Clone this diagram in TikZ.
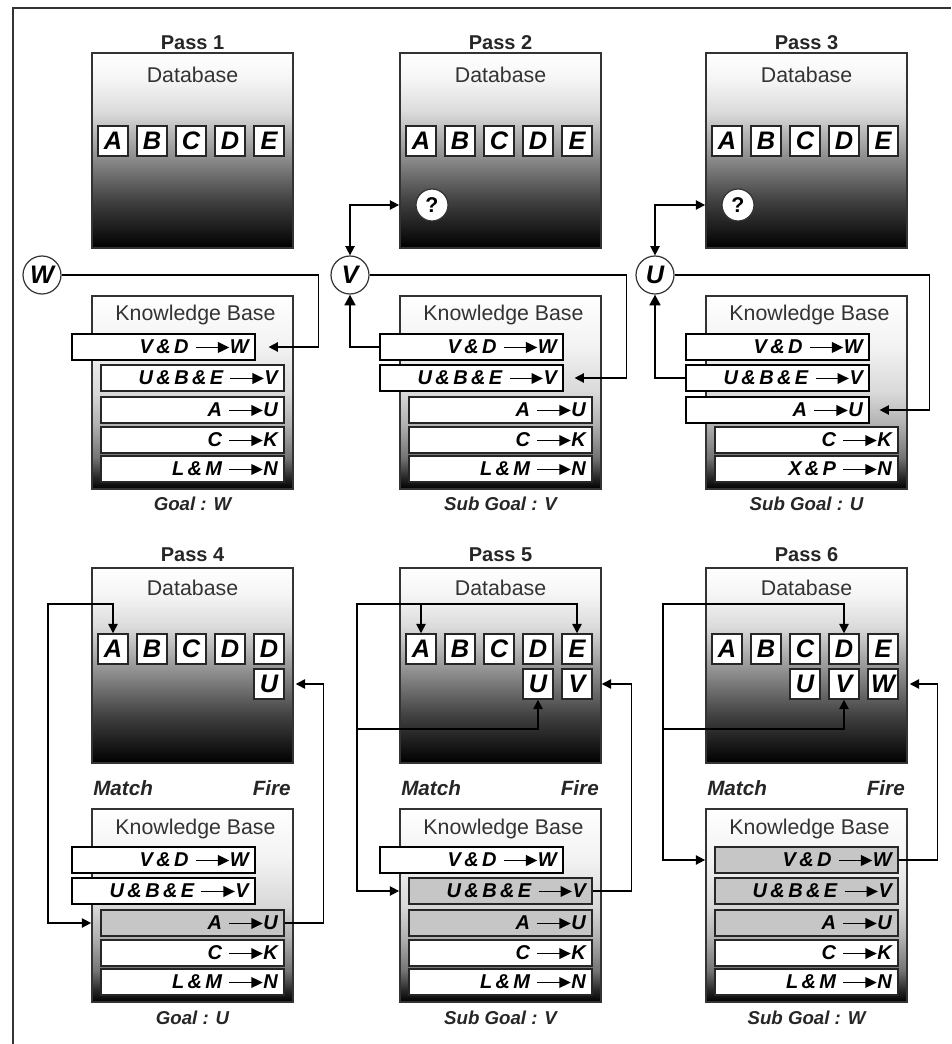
\documentclass[tikz,border=0pt]{standalone}
\usepackage{fontspec}
\setmainfont{Liberation Sans}
\usetikzlibrary{arrows.meta,calc}

% shadings: colour stops between 25bp and 75bp cover the box
\pgfdeclareverticalshading{dbshade}{100bp}{color(0bp)=(black); color(25bp)=(black);
  color(37bp)=(black!75); color(50bp)=(black!40); color(60bp)=(black!14);
  color(68bp)=(black!4); color(75bp)=(white); color(100bp)=(white)}
\pgfdeclareverticalshading{kbshade}{100bp}{color(0bp)=(black); color(25bp)=(black);
  color(28bp)=(black!85); color(33bp)=(black!55); color(42bp)=(black!30);
  color(50bp)=(black!15); color(62bp)=(black!5); color(75bp)=(white); color(100bp)=(white)}

\newcommand{\rto}{\tikz[baseline=-0.6ex]\draw[black,line width=1pt,-{Triangle[length=8.5pt,width=8pt]}] (0,0)--(25pt,0);}

\tikzset{
    frame/.style={line width=1.4pt,draw=black!80},
    dbbox/.style={draw=black!80,line width=1.3pt,shading=dbshade,minimum width=150.75pt,minimum height=146.25pt,inner sep=0pt},
    kbbox/.style={dbbox,shading=kbshade,minimum height=144.75pt},
    letbox/.style={draw=black!85,line width=1.1pt,fill=white,minimum size=22.5pt,inner sep=0pt,font=\bfseries\itshape\fontsize{19}{19}\selectfont},
    rulebox/.style={draw=black!85,line width=1.3pt,fill=white,minimum height=19.5pt,text width=128pt,inner xsep=4.6pt,inner ysep=0pt,align=right,font=\bfseries\itshape\fontsize{15}{15}\selectfont},
    hitrule/.style={rulebox,fill=gray!45},
    outrule/.style={rulebox,draw=black,line width=0.9pt},
    varcirc/.style={circle,draw=black!80,line width=0.9pt,fill=white,minimum size=28.5pt,inner sep=0pt,font=\bfseries\itshape\fontsize{19}{19}\selectfont},
    qcirc/.style={circle,draw=black!80,line width=0.9pt,fill=white,minimum size=24pt,inner sep=0pt,font=\bfseries\fontsize{16}{16}\selectfont},
    ttl/.style={font=\bfseries\fontsize{15}{15}\selectfont,text=black!85},
    lbl/.style={font=\fontsize{16}{16}\selectfont,text=black!80},
    goalcap/.style={font=\bfseries\itshape\fontsize{14}{14}\selectfont,text=black!85},
    mf/.style={font=\bfseries\itshape\fontsize{15.5}{15.5}\selectfont,text=black!85,inner sep=0pt},
    arr/.style={line width=1.1pt,-{Triangle[length=7pt,width=7pt]}},
    arrb/.style={line width=1.1pt,{Triangle[length=7pt,width=7pt]}-{Triangle[length=7pt,width=7pt]}},
    arrthick/.style={line width=1.8pt,-{Triangle[length=8pt,width=8pt]}}
}

\begin{document}
\begin{tikzpicture}[x=0.75pt,y=-0.75pt]
  \useasboundingbox (0,0) rectangle (951,1044);

  % outer frame
  \draw[frame] (13,1044) -- (13,8) -- (951,8);

  % passes 1-3: database and knowledge base
  \foreach \p/\x in {1/192.5,2/500.5,3/806.5}{
    \node[ttl] (t\p) at (\x,43) {Pass \p};
    \node[dbbox] (db\p) at (\x,150.5) {};
    \node[lbl] (dl\p) at (\x,75) {Database};
    \foreach \l [count=\i] in {A,B,C,D,E}
      \node[letbox] (a\p\i) at ({\x-118.5+39*\i},141) {\l};
    \node[kbbox] (kb\p) at (\x,392.5) {};
    \node[lbl] (kl\p) at (\x+3,315) {Knowledge Base};
  }

  % passes 4-6
  \foreach \p/\x in {4/192.5,5/500.5,6/806.5}{
    \node[ttl] (t\p) at (\x,555) {Pass \p};
    \node[dbbox] (db\p) at (\x,665.5) {};
    \node[lbl] (dl\p) at (\x,588) {Database};
    \node[kbbox] (kb\p) at (\x,905.5) {};
    \node[lbl] (kl\p) at (\x+3,829) {Knowledge Base};
    \node[mf,anchor=west] (m\p) at (\x-99.5,788) {Match};
    \node[mf,anchor=east] (f\p) at (\x+98.5,788) {Fire};
  }
  \foreach \l [count=\i] in {A,B,C,D,D}
    \node[letbox] (a4\i) at ({74+39*\i},649) {\l};
  \foreach \p/\x in {5/500.5,6/806.5}
    \foreach \l [count=\i] in {A,B,C,D,E}
      \node[letbox] (a\p\i) at ({\x-118.5+39*\i},649) {\l};

  % new facts
  \node[letbox] (b4U) at (269,684) {U};
  \node[letbox] (b5U) at (538,684) {U};
  \node[letbox] (b5V) at (577,684) {V};
  \node[letbox] (b6U) at (805,684) {U};
  \node[letbox] (b6V) at (844,684) {V};
  \node[letbox] (b6W) at (883,684) {W};

  % rules, pass 1
  \node[outrule] (r11) at (163.5,347) {V\,\&\,D \rto W};
  \node[rulebox] (r12) at (192.5,378) {U\,\&\,B\,\&\,E \rto V};
  \node[rulebox] (r13) at (192.5,410) {A \rto U};
  \node[rulebox] (r14) at (192.5,440) {C \rto K};
  \node[rulebox] (r15) at (192.5,469) {L\,\&\,M \rto N};
  % rules, pass 2
  \node[outrule] (r21) at (471.5,347) {V\,\&\,D \rto W};
  \node[outrule] (r22) at (471.5,378) {U\,\&\,B\,\&\,E \rto V};
  \node[rulebox] (r23) at (500.5,410) {A \rto U};
  \node[rulebox] (r24) at (500.5,440) {C \rto K};
  \node[rulebox] (r25) at (500.5,469) {L\,\&\,M \rto N};
  % rules, pass 3
  \node[outrule] (r31) at (777.5,347) {V\,\&\,D \rto W};
  \node[outrule] (r32) at (777.5,378) {U\,\&\,B\,\&\,E \rto V};
  \node[outrule] (r33) at (777.5,410) {A \rto U};
  \node[rulebox] (r34) at (806.5,440) {C \rto K};
  \node[rulebox] (r35) at (806.5,469) {X\,\&\,P \rto N};
  % rules, pass 4
  \node[outrule] (r41) at (163.5,860) {V\,\&\,D \rto W};
  \node[outrule] (r42) at (163.5,891) {U\,\&\,B\,\&\,E \rto V};
  \node[hitrule] (r43) at (192.5,923) {A \rto U};
  \node[rulebox] (r44) at (192.5,953) {C \rto K};
  \node[rulebox] (r45) at (192.5,982) {L\,\&\,M \rto N};
  % rules, pass 5
  \node[outrule] (r51) at (471.5,860) {V\,\&\,D \rto W};
  \node[hitrule] (r52) at (500.5,891) {U\,\&\,B\,\&\,E \rto V};
  \node[hitrule] (r53) at (500.5,923) {A \rto U};
  \node[rulebox] (r54) at (500.5,953) {C \rto K};
  \node[rulebox] (r55) at (500.5,982) {L\,\&\,M \rto N};
  % rules, pass 6
  \node[hitrule] (r61) at (806.5,860) {V\,\&\,D \rto W};
  \node[hitrule] (r62) at (806.5,891) {U\,\&\,B\,\&\,E \rto V};
  \node[hitrule] (r63) at (806.5,923) {A \rto U};
  \node[rulebox] (r64) at (806.5,953) {C \rto K};
  \node[rulebox] (r65) at (806.5,982) {L\,\&\,M \rto N};

  % goals
  \node[goalcap] (c1) at (192.5,504) {Goal : W};
  \node[goalcap] (c2) at (500.5,504) {Sub Goal : V};
  \node[goalcap] (c3) at (806.5,504) {Sub Goal : U};
  \node[goalcap] (c4) at (192.5,1018) {Goal : U};
  \node[goalcap] (c5) at (500.5,1018) {Sub Goal : V};
  \node[goalcap] (c6) at (806.5,1018) {Sub Goal : W};

  % goal circles and unknown facts
  \node[varcirc] (gW) at (42,275) {W};
  \node[varcirc] (gV) at (350,275) {V};
  \node[varcirc] (gU) at (655,275) {U};
  \node[qcirc] (q2) at (432,205) {?};
  \node[qcirc] (q3) at (738,205) {?};

  % backward chaining, passes 1-3
  \draw[arr] (gW.east) -| ($(r11.east)+(63,0)$) -- ($(r11.east)+(13,0)$);
  \draw[arrb] (db2.west |- q2) -| (gV.north);
  \draw[arrthick] (r21.west) -| (gV.south);
  \draw[arr] (gV.east) -| ($(r22.east)+(63,0)$) -- ($(r22.east)+(11,0)$);
  \draw[arrb] (db3.west |- q3) -| (gU.north);
  \draw[arrthick] (r32.west) -| (gU.south);
  \draw[arr] (gU.east) -| ($(r33.east)+(60,0)$) -- ($(r33.east)+(10,0)$);

  % match and fire, passes 4-6
  \draw[arrb] (kb4.west |- r43) -| (48,604) -| (a41.north);
  \draw[arr] (r43.east) -| ($(b4U.east)+(39,0)$) -- ($(b4U.east)+(11,0)$);

  \draw[arrb] (kb5.west |- r52) -| (357,604) -| (a51.north);
  \draw[arr] (357,604) -| (a55.north);
  \draw[arr] (357,729) -| (b5U.south);
  \draw[arr] (r52.east) -| ($(b5V.east)+(39,0)$) -- ($(b5V.east)+(9,0)$);

  \draw[arrb] (kb6.west |- r61) -| (663,604) -| (a64.north);
  \draw[arr] (663,729) -| (b6V.south);
  \draw[arr] (r61.east) -| ($(b6W.east)+(39,0)$) -- ($(b6W.east)+(11,0)$);

\end{tikzpicture}
\end{document}
